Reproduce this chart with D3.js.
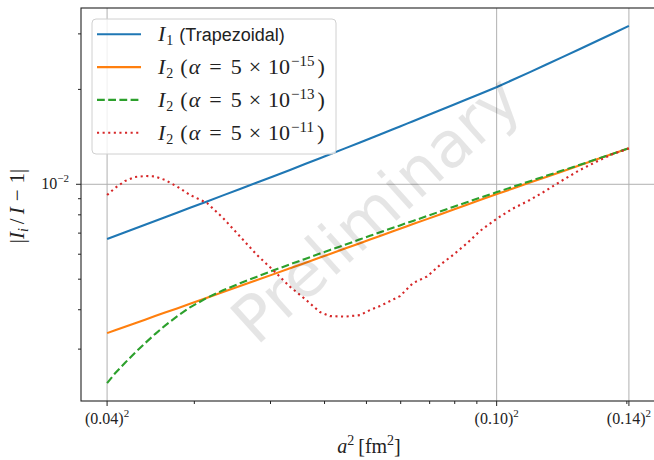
<!DOCTYPE html>
<html>
<head>
<meta charset="utf-8">
<script src="https://cdn.jsdelivr.net/npm/d3@7"></script>
<style>
body { margin: 0; background: #fff; }
svg { display: block; }
</style>
</head>
<body>
<svg id="chart"></svg>
<script>
// ================= DATA =================
// x = a^2 [fm^2], log scale
const xA2 = [0.0012569, 0.0013116, 0.0013833, 0.0014588, 0.0015385, 0.0016226, 0.0017112, 0.0018241,
  0.0019548, 0.0021400, 0.0023302, 0.0025509, 0.0027925, 0.0030406, 0.0033286, 0.0036052,
  0.0039047, 0.0041182, 0.0044603, 0.0048312, 0.0050953, 0.0053738, 0.0057587, 0.0059773,
  0.0062042, 0.0064055, 0.0069010, 0.0073953, 0.0079250, 0.0085380, 0.0091496, 0.010016,
  0.010906, 0.011939, 0.013070, 0.014231, 0.015579, 0.017054, 0.018570, 0.020221];

const i1Trap = [0.006704, 0.006853, 0.007046, 0.007239, 0.007443, 0.007647, 0.007862, 0.008125,
  0.008422, 0.008825, 0.009221, 0.009662, 0.010125, 0.010579, 0.011102, 0.011591,
  0.012102, 0.012452, 0.013001, 0.013574, 0.013977, 0.014391, 0.014949, 0.015258,
  0.015573, 0.015849, 0.016523, 0.017176, 0.017855, 0.018614, 0.019350, 0.020365,
  0.021451, 0.022692, 0.024024, 0.025359, 0.026867, 0.028464, 0.030090, 0.031809];

const i2a15 = [0.003372, 0.003442, 0.003534, 0.003625, 0.003719, 0.003818, 0.003917, 0.004039,
  0.004178, 0.004365, 0.004551, 0.004755, 0.004968, 0.005179, 0.005412, 0.005629,
  0.005856, 0.006012, 0.006254, 0.006506, 0.006680, 0.006858, 0.007092, 0.007223,
  0.007362, 0.007476, 0.007754, 0.008025, 0.008306, 0.008615, 0.008916, 0.009309,
  0.009698, 0.010125, 0.010571, 0.011005, 0.011490, 0.011997, 0.012498, 0.013010];

const i2a13 = [0.002340, 0.002514, 0.002716, 0.002922, 0.003132, 0.003348, 0.003562, 0.003810,
  0.004072, 0.004365, 0.004611, 0.004853, 0.005093, 0.005325, 0.005572, 0.005797,
  0.006030, 0.006191, 0.006430, 0.006689, 0.006863, 0.007041, 0.007276, 0.007405,
  0.007542, 0.007653, 0.007926, 0.008197, 0.008471, 0.008774, 0.009067, 0.009446,
  0.009819, 0.010229, 0.010657, 0.011070, 0.011532, 0.012023, 0.012507, 0.013010];

const i2a11 = [0.009248, 0.009733, 0.010244, 0.010548, 0.010626, 0.010587, 0.010319, 0.009840,
  0.009248, 0.008722, 0.007817, 0.006828, 0.005964, 0.005345, 0.004730, 0.004324,
  0.003932, 0.003818, 0.003804, 0.003846, 0.003990, 0.004108, 0.004308, 0.004420,
  0.004652, 0.004860, 0.005097, 0.005544, 0.005964, 0.006497, 0.007108, 0.007788,
  0.008379, 0.008916, 0.009592, 0.010319, 0.011102, 0.011814, 0.012479, 0.012991];

const xTickValues = [0.0012569, 0.010, 0.020221];
const xTickLabels = ["(0.04)", "(0.10)", "(0.14)"];
const xMinorTicks = [0.002, 0.003, 0.004, 0.005, 0.006, 0.007, 0.008, 0.009, 0.02];
const yTickValues = [0.01];
const yMinorTicks = [0.003, 0.004, 0.005, 0.006, 0.007, 0.008, 0.009, 0.02, 0.03];

const seriesNames = ["I1", "a15", "a13", "a11"];
const seriesValues = [i1Trap, i2a15, i2a13, i2a11];
const alphaExps = ["15", "13", "11"];
// =========================================

var W = 654, H = 460;
var pL = 81, pR = 655, pT = 8, pB = 401;

const styles = [
  {color: "#1f77b4", dash: null},
  {color: "#ff7f0e", dash: null},
  {color: "#2ca02c", dash: "7.8,3.4"},
  {color: "#d62728", dash: "2.1,3.5"}
];

// matplotlib-like 5% margins in log space
function padLog(lo, hi) {
  var l0 = Math.log(lo), l1 = Math.log(hi), m = (l1 - l0) * 0.05;
  return [Math.exp(l0 - m), Math.exp(l1 + m)];
}
const allY = [].concat(...seriesValues);
const xs = d3.scaleLog().domain(padLog(d3.min(xA2), d3.max(xA2))).range([pL, pR]);
const ys = d3.scaleLog().domain(padLog(d3.min(allY), d3.max(allY))).range([pB, pT]);

const svg = d3.select("#chart").attr("width", W).attr("height", H)
  .style("font-family", "'Liberation Serif', serif");

// clip
svg.append("clipPath").attr("id", "clip").append("rect")
  .attr("x", pL).attr("y", pT).attr("width", pR - pL).attr("height", pB - pT);

// ================== GRID ==================
const grid = svg.append("g").attr("stroke", "#b0b0b0").attr("stroke-width", 1);
grid.selectAll(".gx").data(xTickValues).enter().append("line")
  .attr("x1", d => xs(d)).attr("x2", d => xs(d)).attr("y1", pT).attr("y2", pB);
grid.selectAll(".gy").data(yTickValues).enter().append("line")
  .attr("y1", d => ys(d)).attr("y2", d => ys(d)).attr("x1", pL).attr("x2", pR);

// ================== LINES ==================
const line = d3.line().x((d, i) => xs(xA2[i])).y(d => ys(d));
const plot = svg.append("g").attr("clip-path", "url(#clip)");
seriesValues.forEach(function(vals, k) {
  plot.append("path")
    .datum(vals)
    .attr("d", line)
    .attr("fill", "none")
    .attr("stroke", styles[k].color)
    .attr("stroke-width", 2.1)
    .attr("stroke-dasharray", styles[k].dash);
});

// watermark
var wx = (pL + pR) / 2 + 8, wy = (pT + pB) / 2 + 5;
svg.append("text")
  .attr("x", wx).attr("y", wy)
  .attr("text-anchor", "middle").attr("dominant-baseline", "central")
  .attr("transform", "rotate(-42," + wx + "," + wy + ")")
  .style("font-family", "'DejaVu Sans', sans-serif")
  .style("font-size", "64px")
  .attr("fill", "#000").attr("fill-opacity", 0.1)
  .text("Preliminary");

// ================== AXES ==================
const ax = svg.append("g").attr("stroke", "#222");
ax.append("rect").attr("x", pL).attr("y", pT).attr("width", pR - pL).attr("height", pB - pT)
  .attr("fill", "none").attr("stroke-width", 1.1);

ax.selectAll(".xmaj").data(xTickValues).enter().append("line")
  .attr("x1", d => xs(d)).attr("x2", d => xs(d)).attr("y1", pB).attr("y2", pB + 5);
ax.selectAll(".xmin").data(xMinorTicks).enter().append("line")
  .attr("x1", d => xs(d)).attr("x2", d => xs(d)).attr("y1", pB).attr("y2", pB + 3);
ax.selectAll(".ymaj").data(yTickValues).enter().append("line")
  .attr("y1", d => ys(d)).attr("y2", d => ys(d)).attr("x1", pL).attr("x2", pL - 5);
ax.selectAll(".ymin").data(yMinorTicks).enter().append("line")
  .attr("y1", d => ys(d)).attr("y2", d => ys(d)).attr("x1", pL).attr("x2", pL - 3);

// x tick labels
const xt = svg.selectAll(".xtl").data(xTickValues).enter().append("text")
  .attr("x", d => xs(d)).attr("y", pB + 23)
  .attr("text-anchor", "middle").style("font-size", "16px").attr("fill", "#222");
xt.append("tspan").text((d, i) => xTickLabels[i]);
xt.append("tspan").attr("dy", -7).style("font-size", "11px").text("2");

// y tick label
const yt = svg.selectAll(".ytl").data(yTickValues).enter().append("text")
  .attr("x", pL - 12).attr("y", d => ys(d) + 5)
  .attr("text-anchor", "end").style("font-size", "16px").attr("fill", "#222");
yt.append("tspan").text("10");
yt.append("tspan").attr("dy", -7).style("font-size", "11px").text("\u22122");

// axis labels
const xl = svg.append("text").attr("x", (pL + pR) / 2 + 1).attr("y", 453)
  .attr("text-anchor", "middle").style("font-size", "20px").attr("fill", "#222");
xl.append("tspan").style("font-style", "italic").text("a");
xl.append("tspan").attr("dy", -8).style("font-size", "14px").text("2");
xl.append("tspan").attr("dy", 8).attr("dx", 4).text("[fm");
xl.append("tspan").attr("dy", -8).style("font-size", "14px").text("2");
xl.append("tspan").attr("dy", 8).text("]");

const yl = svg.append("text")
  .attr("transform", "translate(24," + 206 + ") rotate(-90)")
  .attr("text-anchor", "middle").style("font-size", "21px").attr("fill", "#222");
yl.append("tspan").text("|");
yl.append("tspan").style("font-style", "italic").text("I");
yl.append("tspan").attr("dy", 4).style("font-size", "14px").style("font-style", "italic").text("i");
yl.append("tspan").attr("dy", -4).attr("dx", 4).text("/");
yl.append("tspan").attr("dx", 4).style("font-style", "italic").text("I");
yl.append("tspan").attr("dx", 6).text("\u2212");
yl.append("tspan").attr("dx", 6).text("1|");

// ================== LEGEND ==================
const lg = svg.append("g");
lg.append("rect").attr("x", 92).attr("y", 19).attr("width", 244).attr("height", 135)
  .attr("rx", 4).attr("fill", "#fff").attr("fill-opacity", 0.8)
  .attr("stroke", "#d0d0d0").attr("stroke-width", 1);
const entries = lg.selectAll(".le").data(seriesNames).enter().append("g")
  .attr("transform", (d, i) => "translate(0," + (34.3 + i * 32.8) + ")");
entries.append("line").attr("x1", 97).attr("x2", 141).attr("y1", 0).attr("y2", 0)
  .attr("stroke", (d, i) => styles[i].color).attr("stroke-width", 2.1)
  .attr("stroke-dasharray", (d, i) => styles[i].dash);
entries.each(function(d, i) {
  var t = d3.select(this).append("text").attr("x", 158).attr("y", 7)
    .style("font-size", "22px").attr("fill", "#222");
  t.append("tspan").style("font-style", "italic").text("I");
  t.append("tspan").attr("dy", 4).attr("dx", 1).style("font-size", "14px").text(i === 0 ? "1" : "2");
  if (i === 0) {
    t.append("tspan").attr("dy", -4).attr("dx", 6).style("font-family", "'Liberation Sans', sans-serif")
      .style("font-size", "18px").text("(Trapezoidal)");
  } else {
    t.append("tspan").attr("dy", -4).attr("dx", 7).text("(");
    t.append("tspan").attr("dx", 1).style("font-style", "italic").text("\u03b1");
    t.append("tspan").attr("dx", 9).text("=");
    t.append("tspan").attr("dx", 9).text("5");
    t.append("tspan").attr("dx", 7).text("\u00d7");
    t.append("tspan").attr("dx", 7).text("10");
    t.append("tspan").attr("dy", -8).attr("dx", 1).style("font-size", "15px").text("\u2212" + alphaExps[i - 1]);
    t.append("tspan").attr("dy", 8).attr("dx", 3).text(")");
  }
});
</script>
</body>
</html>
